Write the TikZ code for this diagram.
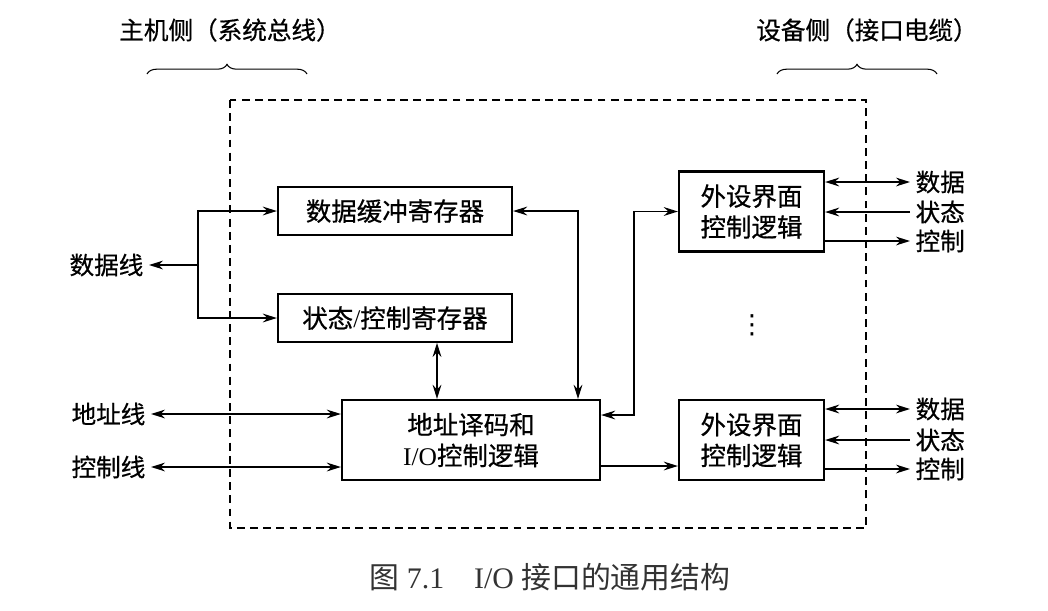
\documentclass[tikz,border=0pt]{standalone}
\usepackage{fontspec}
\setmainfont{Liberation Serif}
\newfontfamily\cjk{Noto Sans CJK SC}[FakeBold=0.6]
\newfontfamily\cjkcap{Noto Sans CJK SC}
\newfontfamily\symb{DejaVu Sans}
\usetikzlibrary{arrows.meta, calc, decorations.pathreplacing}
\newcommand\lblfont{\fontsize{14}{17}\selectfont}
\newcommand\boxfont{\fontsize{14.5}{17.6}\selectfont}

\begin{document}
\begin{tikzpicture}[x=0.02cm, y=-0.02cm,
    regbox/.style={draw, line width=1.3pt, minimum width=4.68cm,
      minimum height=0.95cm, inner sep=0pt, font=\boxfont},
    logicbox/.style={draw, line width=1.3pt, minimum height=1.6cm,
      inner sep=0pt, align=center, font=\boxfont},
    lbl/.style={font=\lblfont, inner sep=0.3em},
    link/.style={line width=0.8pt, -{Stealth[length=8pt, width=5pt]}},
    dlink/.style={line width=0.8pt,
      {Stealth[length=8pt, width=5pt]}-{Stealth[length=8pt, width=5pt]}}]
    \useasboundingbox (0,0) rectangle (1048,610);

    % Interface boundary
    \draw[line width=0.9pt, dash pattern=on 4.5pt off 3pt] (230,100) rectangle (866,528);

    % Sides
    \node[lbl] (host) at (230,30) {\cjk 主机侧（系统总线）};
    \node[lbl] (dev) at (867,30) {\cjk 设备侧（接口电缆）};
    \draw[line width=0.6pt, decorate, decoration={brace, amplitude=5.5pt}]
      (147,74) -- (307,74);
    \draw[line width=0.6pt, decorate, decoration={brace, amplitude=5.5pt}]
      (777,74) -- (937,74);

    % Registers and logic
    \node[regbox] (buf) at (395,211) {\cjk 数据缓冲寄存器};
    \node[regbox] (stat) at (395,318) {{\cjk 状态}/{\cjk 控制寄存器}};
    \node[logicbox, minimum width=5.16cm] (dec) at (471,440)
      {{\cjk 地址译码和}\\I/O{\cjk 控制逻辑}};
    \node[logicbox, minimum width=2.9cm] (dev1) at (751.5,211.5)
      {\cjk 外设界面\\\cjk 控制逻辑};
    \node[logicbox, minimum width=2.9cm] (dev2) at (751.5,440)
      {\cjk 外设界面\\\cjk 控制逻辑};
    \node[font=\fontsize{15}{15}\selectfont] (dots) at (752,325) {\symb ⋮};

    % System bus side
    \node[lbl, anchor=east] (dline) at (149,265) {\cjk 数据线};
    \node[lbl, anchor=east] (aline) at (151,414) {\cjk 地址线};
    \node[lbl, anchor=east] (cline) at (151,467) {\cjk 控制线};
    \coordinate (fork) at (198,265);
    \draw[link] (fork) -- (dline.east);
    \draw[link] (fork) |- (buf.west);
    \draw[link] (fork) |- (stat.west);
    \draw[dlink] (aline.east) -- (aline.east -| dec.west);
    \draw[dlink] (cline.east) -- (cline.east -| dec.west);

    % Internal paths
    \draw[dlink] (buf.east) -| ($(dec.north)+(107,0)$);
    \draw[dlink] ($(stat.south)+(42,0)$) -- ($(dec.north)+(-34,0)$);
    \draw[dlink] ($(dec.east)+(0,-25)$) -| ($(dev1.west)+(-44,0)$) -- (dev1.west);
    \draw[link] ($(dec.east)+(0,26)$) -- ($(dev2.west)+(0,26)$);

    % Device side
    \foreach \dv/\ya/\yb/\yc in {dev1/182/212/241, dev2/409/440/469} {
      \node[lbl, anchor=west] (\dv d) at (910,\ya) {\cjk 数据};
      \node[lbl, anchor=west] (\dv s) at (910,\yb) {\cjk 状态};
      \node[lbl, anchor=west] (\dv c) at (910,\yc) {\cjk 控制};
      \draw[dlink] (\dv d.west -| \dv.east) -- (\dv d.west);
      \draw[link] (\dv s.west) -- (\dv s.west -| \dv.east);
      \draw[link] (\dv c.west -| \dv.east) -- (\dv c.west);
    }

    % Caption
    \node[font=\fontsize{17}{20}\selectfont, text=black!80] (cap) at (550,577)
      {{\cjkcap 图} 7.1\quad I/O {\cjkcap 接口的通用结构}};
\end{tikzpicture}
\end{document}
